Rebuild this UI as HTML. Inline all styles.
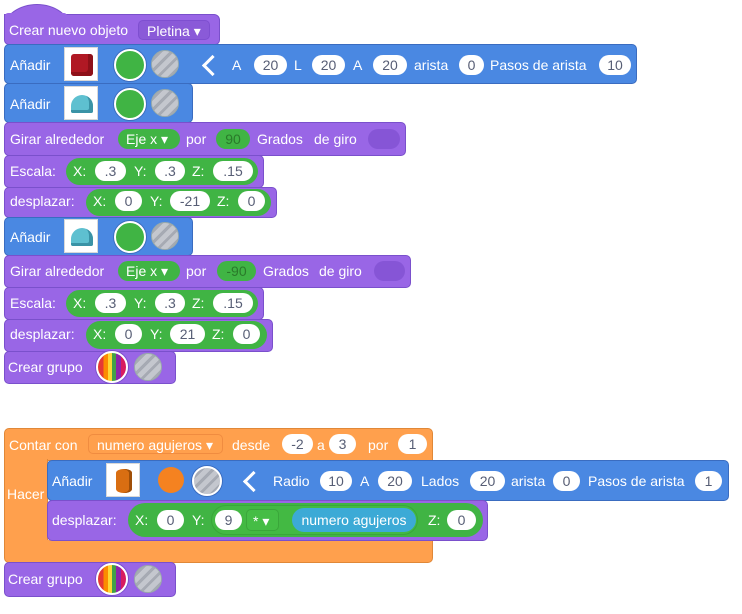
<!DOCTYPE html>
<html><head><meta charset="utf-8"><style>
html,body{margin:0;padding:0;background:#fff;width:742px;height:614px;overflow:hidden;font-family:"Liberation Sans",sans-serif}
.k{position:absolute;box-sizing:border-box;border-radius:5px}
.pu{background:#9966e6;border:1px solid #7a50cc}
.bl{background:#4a88e2;border:1px solid #3a6cc0}
.or{background:#ffa04d;border:1px solid #e08838}
.g{position:absolute;background:#40b444;border-radius:14px;box-sizing:border-box}
.t{position:absolute;color:#fff;font-size:14px;line-height:16px;white-space:nowrap}
.w{position:absolute;background:#fff;border-radius:11px;color:#575e75;text-align:center;font-size:14px;height:20px;line-height:20px}
.img{position:absolute;width:34px;height:34px;background:#fff;border:1px solid #d8d8d8;box-sizing:border-box}
.cg{position:absolute;width:32px;height:32px;border-radius:50%;box-sizing:border-box;background:#40b444;border:2px solid #fff;box-shadow:0 0 0 1px #3a6cc0}
.cs{position:absolute;width:28px;height:28px;border-radius:50%;box-sizing:border-box;background:repeating-linear-gradient(135deg,#c4c7ce 0 5px,#a6aab3 5px 8px);border:1px solid #9aa}
.dd{position:absolute;border-radius:5px;color:#fff;font-size:14px;line-height:20px;height:20px;box-sizing:border-box;padding-left:8px}
.lt{position:absolute;width:12px;height:12px;border-left:3px solid #fff;border-bottom:3px solid #fff;transform:rotate(45deg)}
</style></head><body>

<!-- hat -->
<div class="k pu" style="left:4px;top:4px;width:66px;height:24px;border-radius:50% 50% 0 0/100% 100% 0 0;border-bottom:none"></div>
<div class="k pu" style="left:4px;top:14px;width:216px;height:31px;border-radius:0 6px 5px 5px"></div>
<div class="k" style="left:5px;top:13px;width:62px;height:6px;background:#9966e6"></div>
<div class="t" style="left:9px;top:22px">Crear nuevo objeto</div>
<div class="dd" style="left:138px;top:20px;width:72px;background:#8a5ad8;border:1px solid #7e4fd0">Pletina ▾</div>

<!-- Añadir cube -->
<div class="k bl" style="left:4px;top:44px;width:633px;height:40px"></div>
<div class="t" style="left:10px;top:57px">Añadir</div>
<div class="img" style="left:64px;top:47px"><div style="position:absolute;left:6px;top:6px;width:22px;height:22px;background:#b01824;border-radius:3px;box-shadow:inset -5px -4px 0 #8e1019"></div></div>
<div class="cg" style="left:114px;top:49px"></div>
<div class="cs" style="left:151px;top:50px"></div>
<div class="lt" style="left:205px;top:58px"></div>
<div class="t" style="left:232px;top:57px">A</div>
<div class="w" style="left:254px;top:55px;width:33px">20</div>
<div class="t" style="left:294px;top:57px">L</div>
<div class="w" style="left:312px;top:55px;width:33px">20</div>
<div class="t" style="left:353px;top:57px">A</div>
<div class="w" style="left:373px;top:55px;width:34px">20</div>
<div class="t" style="left:414px;top:57px">arista</div>
<div class="w" style="left:459px;top:55px;width:25px">0</div>
<div class="t" style="left:490px;top:57px">Pasos de arista</div>
<div class="w" style="left:599px;top:55px;width:32px">10</div>

<!-- Añadir 2 -->
<div class="k bl" style="left:4px;top:83px;width:189px;height:40px"></div>
<div class="t" style="left:10px;top:96px">Añadir</div>
<div class="img" style="left:64px;top:86px"><div style="position:absolute;left:6px;top:8px;width:22px;height:18px;background:#5ec0d0;border-radius:11px 11px 2px 2px;box-shadow:inset -4px -3px 0 #3a93a6"></div></div>
<div class="cg" style="left:114px;top:88px"></div>
<div class="cs" style="left:151px;top:89px"></div>

<!-- Girar 1 -->
<div class="k pu" style="left:4px;top:122px;width:402px;height:34px"></div>
<div class="t" style="left:10px;top:131px">Girar alrededor</div>
<div class="dd" style="left:118px;top:129px;width:62px;background:#40b444;border-radius:10px">Eje x ▾</div>
<div class="t" style="left:186px;top:131px">por</div>
<div class="w" style="left:216px;top:129px;width:34px;background:#40b444;color:#2a7a2a">90</div>
<div class="t" style="left:257px;top:131px">Grados</div>
<div class="t" style="left:314px;top:131px">de giro</div>
<div class="w" style="left:368px;top:129px;width:32px;background:#8655d6"></div>

<!-- Escala 1 -->
<div class="k pu" style="left:4px;top:155px;width:260px;height:33px"></div>
<div class="t" style="left:10px;top:163px">Escala:</div>
<div class="g" style="left:66px;top:158px;width:192px;height:27px"></div>
<div class="t" style="left:73px;top:163px">X:</div>
<div class="w" style="left:95px;top:161px;width:31px">.3</div>
<div class="t" style="left:134px;top:163px">Y:</div>
<div class="w" style="left:155px;top:161px;width:30px">.3</div>
<div class="t" style="left:192px;top:163px">Z:</div>
<div class="w" style="left:213px;top:161px;width:40px">.15</div>

<!-- desplazar 1 -->
<div class="k pu" style="left:4px;top:187px;width:273px;height:31px"></div>
<div class="t" style="left:10px;top:193px">desplazar:</div>
<div class="g" style="left:86px;top:189px;width:185px;height:27px"></div>
<div class="t" style="left:93px;top:193px">X:</div>
<div class="w" style="left:115px;top:191px;width:27px">0</div>
<div class="t" style="left:150px;top:193px">Y:</div>
<div class="w" style="left:170px;top:191px;width:40px">-21</div>
<div class="t" style="left:217px;top:193px">Z:</div>
<div class="w" style="left:238px;top:191px;width:27px">0</div>

<!-- Añadir 3 -->
<div class="k bl" style="left:4px;top:217px;width:189px;height:39px"></div>
<div class="t" style="left:10px;top:229px">Añadir</div>
<div class="img" style="left:64px;top:219px"><div style="position:absolute;left:6px;top:8px;width:22px;height:18px;background:#5ec0d0;border-radius:11px 11px 2px 2px;box-shadow:inset -4px -3px 0 #3a93a6"></div></div>
<div class="cg" style="left:114px;top:221px"></div>
<div class="cs" style="left:151px;top:222px"></div>

<!-- Girar 2 -->
<div class="k pu" style="left:4px;top:255px;width:407px;height:33px"></div>
<div class="t" style="left:10px;top:263px">Girar alrededor</div>
<div class="dd" style="left:118px;top:261px;width:62px;background:#40b444;border-radius:10px">Eje x ▾</div>
<div class="t" style="left:186px;top:263px">por</div>
<div class="w" style="left:217px;top:261px;width:39px;background:#40b444;color:#2a7a2a">-90</div>
<div class="t" style="left:263px;top:263px">Grados</div>
<div class="t" style="left:319px;top:263px">de giro</div>
<div class="w" style="left:374px;top:261px;width:31px;background:#8655d6"></div>

<!-- Escala 2 -->
<div class="k pu" style="left:4px;top:287px;width:260px;height:33px"></div>
<div class="t" style="left:10px;top:295px">Escala:</div>
<div class="g" style="left:66px;top:290px;width:192px;height:27px"></div>
<div class="t" style="left:73px;top:295px">X:</div>
<div class="w" style="left:95px;top:293px;width:31px">.3</div>
<div class="t" style="left:134px;top:295px">Y:</div>
<div class="w" style="left:155px;top:293px;width:30px">.3</div>
<div class="t" style="left:192px;top:295px">Z:</div>
<div class="w" style="left:213px;top:293px;width:40px">.15</div>

<!-- desplazar 2 -->
<div class="k pu" style="left:4px;top:319px;width:269px;height:33px"></div>
<div class="t" style="left:10px;top:326px">desplazar:</div>
<div class="g" style="left:86px;top:321px;width:181px;height:28px"></div>
<div class="t" style="left:93px;top:326px">X:</div>
<div class="w" style="left:115px;top:324px;width:27px">0</div>
<div class="t" style="left:150px;top:326px">Y:</div>
<div class="w" style="left:170px;top:324px;width:35px">21</div>
<div class="t" style="left:212px;top:326px">Z:</div>
<div class="w" style="left:233px;top:324px;width:27px">0</div>

<!-- Crear grupo 1 -->
<div class="k pu" style="left:4px;top:351px;width:172px;height:33px"></div>
<div class="t" style="left:8px;top:359px">Crear grupo</div>
<div style="position:absolute;left:96px;top:351px;width:32px;height:32px;border-radius:50%;box-sizing:border-box;border:2px solid #fff;box-shadow:0 0 0 1px #7a50cc;background:linear-gradient(90deg,#e53935 0 20%,#fb8c00 20% 35%,#fdd835 35% 50%,#43a047 50% 65%,#8e24aa 65% 82%,#d81b60 82%)"></div>
<div class="cs" style="left:134px;top:353px"></div>

<!-- Contar con (C block) -->
<div class="k or" style="left:4px;top:428px;width:429px;height:33px;border-radius:5px 5px 0 0"></div>
<div class="k or" style="left:4px;top:459px;width:44px;height:90px;border-radius:0;border-top:none;border-bottom:none"></div>
<div class="k or" style="left:4px;top:540px;width:429px;height:23px;border-radius:0 0 5px 5px;border-top:none"></div>
<div class="t" style="left:9px;top:437px">Contar con</div>
<div class="dd" style="left:88px;top:434px;width:135px;border:1px solid #f08c40;background:#ffa04d">numero agujeros ▾</div>
<div class="t" style="left:232px;top:437px">desde</div>
<div class="w" style="left:282px;top:434px;width:31px">-2</div>
<div class="t" style="left:317px;top:437px">a</div>
<div class="w" style="left:329px;top:434px;width:27px">3</div>
<div class="t" style="left:368px;top:437px">por</div>
<div class="w" style="left:398px;top:434px;width:29px">1</div>
<div class="t" style="left:7px;top:486px">Hacer</div>

<!-- inner Añadir cylinder -->
<div class="k bl" style="left:47px;top:460px;width:682px;height:41px"></div>
<div class="t" style="left:52px;top:473px">Añadir</div>
<div class="img" style="left:106px;top:463px"><div style="position:absolute;left:9px;top:5px;width:16px;height:24px;background:#d96e12;border-radius:8px/4px;box-shadow:inset -3px 0 0 #a04f08"></div></div>
<div style="position:absolute;left:158px;top:467px;width:26px;height:26px;border-radius:50%;background:#f58220"></div>
<div class="cs" style="left:192px;top:466px;width:30px;height:30px;border:2px solid #fff;box-shadow:0 0 0 1px #3a6cc0"></div>
<div class="lt" style="left:246px;top:474px"></div>
<div class="t" style="left:273px;top:473px">Radio</div>
<div class="w" style="left:320px;top:471px;width:32px">10</div>
<div class="t" style="left:360px;top:473px">A</div>
<div class="w" style="left:378px;top:471px;width:34px">20</div>
<div class="t" style="left:421px;top:473px">Lados</div>
<div class="w" style="left:470px;top:471px;width:35px">20</div>
<div class="t" style="left:511px;top:473px">arista</div>
<div class="w" style="left:553px;top:471px;width:27px">0</div>
<div class="t" style="left:588px;top:473px">Pasos de arista</div>
<div class="w" style="left:695px;top:471px;width:27px">1</div>

<!-- inner desplazar -->
<div class="k pu" style="left:47px;top:500px;width:441px;height:41px"></div>
<div class="t" style="left:52px;top:512px">desplazar:</div>
<div class="g" style="left:128px;top:503px;width:355px;height:34px;border-radius:17px"></div>
<div class="t" style="left:135px;top:512px">X:</div>
<div class="w" style="left:157px;top:510px;width:27px">0</div>
<div class="t" style="left:192px;top:512px">Y:</div>
<div class="g" style="left:211px;top:505px;width:207px;height:30px;border-radius:15px;background:#43b943;border:1px solid #3aa63a"></div>
<div class="w" style="left:215px;top:510px;width:27px">9</div>
<div class="dd" style="left:246px;top:509px;width:33px;height:22px;line-height:22px;background:#45bd45;border:1px solid #3aa63a;padding-left:6px">* ▾</div>
<div class="w" style="left:292px;top:508px;width:124px;height:24px;line-height:24px;border-radius:12px;background:#3caad6;color:#fff">numero agujeros</div>
<div class="t" style="left:428px;top:512px">Z:</div>
<div class="w" style="left:447px;top:510px;width:29px">0</div>

<!-- Crear grupo 2 -->
<div class="k pu" style="left:4px;top:562px;width:172px;height:35px"></div>
<div class="t" style="left:8px;top:571px">Crear grupo</div>
<div style="position:absolute;left:96px;top:563px;width:32px;height:32px;border-radius:50%;box-sizing:border-box;border:2px solid #fff;box-shadow:0 0 0 1px #7a50cc;background:linear-gradient(90deg,#e53935 0 20%,#fb8c00 20% 35%,#fdd835 35% 50%,#43a047 50% 65%,#8e24aa 65% 82%,#d81b60 82%)"></div>
<div class="cs" style="left:134px;top:565px"></div>

</body></html>
